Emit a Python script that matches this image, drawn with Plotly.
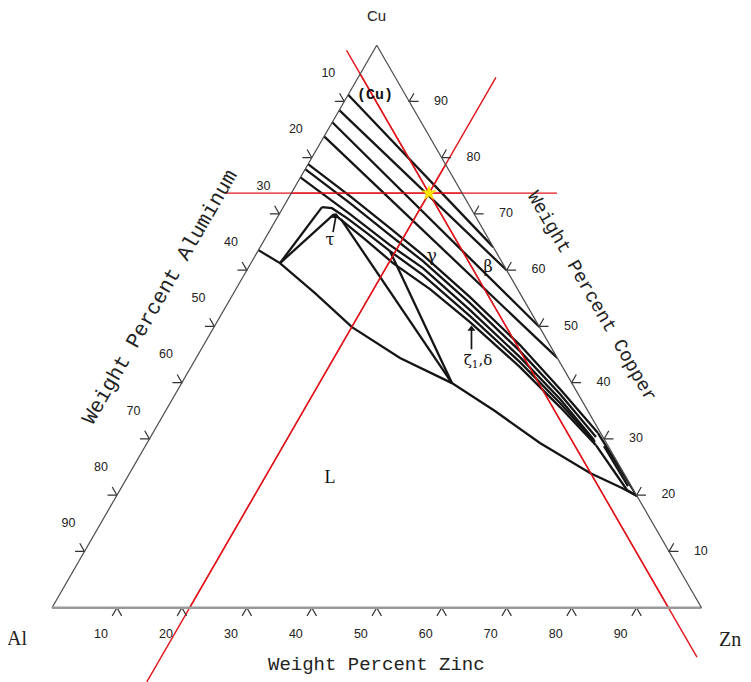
import math
import plotly.graph_objects as go

# ---------------- figure geometry (layout only) ----------------
PAGE_OFF = 8                      # default body margin of the html page
FIG_W, FIG_H = 751, 682
LEFT_PX, RIGHT_PX, BASE_PX = 52.0 - PAGE_OFF, 701.5 - PAGE_OFF, 607.7 - PAGE_OFF
TRI_W = RIGHT_PX - LEFT_PX
TRI_H = TRI_W * math.sqrt(3) / 2
TOP_PX = BASE_PX - TRI_H

# ---------------- data (weight percent Cu, Zn; Al = 100 - Cu - Zn) ----------------
tick_values = [10, 20, 30, 40, 50, 60, 70, 80, 90]
tick_labels = ["10", "20", "30", "40", "50", "60", "70", "80", "90"]

# phase boundaries
L1_cu = [91.2, 64.1];  L1_zn = [0.0, 35.9]
L2_cu = [88.45, 60.0]; L2_zn = [0.0, 40.0]
L3_cu = [86.3, 49.9];  L3_zn = [0.0, 50.1]
L4_cu = [83.8, 44.4];  L4_zn = [0.0, 55.6]
L5a_cu = [78.85, 73.16, 67.48, 62.68, 55.22, 46.69, 38.87, 31.05]
L5a_zn = [0.0, 9.30, 18.30, 25.78, 36.75, 48.71, 58.78, 68.54]
L5b_cu = [77.96, 71.92, 66.23, 61.61, 54.15, 45.62, 37.98, 30.34]
L5b_zn = [0.0, 9.92, 18.92, 26.31, 37.28, 49.24, 59.22, 68.58]
L6_cu = [76.5, 69.97, 64.46, 60.37, 52.91, 44.55, 37.09, 29.80]
L6_zn = [0.0, 10.90, 19.81, 26.94, 37.91, 49.77, 59.67, 68.55]
C1_cu = [71.21, 71.03, 69.26, 66.59, 63.39, 59.13, 51.84, 43.66, 36.38, 29.45]
C1_zn = [5.96, 7.59, 10.79, 15.20, 20.34, 27.56, 38.44, 50.22, 60.02, 68.88]
C2_cu = [69.97, 65.35, 61.26, 56.64, 50.77, 42.78, 35.67, 28.91]
C2_zn = [8.44, 15.67, 21.87, 29.88, 38.97, 50.66, 60.38, 69.29]
liq_cu = [63.57, 61.26, 55.93, 49.88, 44.38, 39.93, 34.96, 29.27, 23.94, 21.27, 19.85]
liq_zn = [0.0, 4.47, 12.53, 21.25, 31.39, 41.61, 50.72, 60.49, 70.86, 77.12, 80.15]
tie1_cu = [61.26, 71.21]; tie1_zn = [4.47, 5.96]
tie2_cu = [61.26, 69.97]; tie2_zn = [4.47, 8.44]
Sa_cu = [69.08, 39.93];   Sa_zn = [9.95, 41.61]
Sb_cu = [63.39, 39.93];   Sb_zn = [20.34, 41.61]
S1_cu = [31.05, 19.85];   S1_zn = [68.54, 80.15]
S2_cu = [28.91, 20.92, 19.85]; S2_zn = [69.29, 78.07, 80.15]
S3_cu = [28.74, 21.63];   S3_zn = [70.62, 77.87]

# pointer arrows
tau_arrow_cu = [66.77, 69.61];  tau_arrow_zn = [9.88, 8.91]
zeta_arrow_cu = [45.97, 49.53]; zeta_arrow_zn = [41.60, 39.82]

# phase labels
label_text = ["<b>(Cu)</b>", "γ", "β", "τ", "ζ<sub>1</sub>,δ", "L"]
label_cu = [91.1, 62.32, 60.37, 65.17, 43.84, 23.05]
label_zn = [4.17, 27.34, 36.95, 10.21, 43.67, 31.28]
label_size = [15, 17, 16, 16, 15, 18]
label_font = ["Liberation Mono", "DejaVu Serif", "DejaVu Serif", "DejaVu Serif",
              "DejaVu Serif", "Liberation Serif"]

# red guide lines through the marked alloy
alloy_cu, alloy_zn = 73.7, 21.2
redH_cu = [73.7, 73.7];   redH_zn = [-10.2, 40.9]
redZn_cu = [-13.2, 94.3]; redZn_zn = [21.2, 21.2]
redAl_cu = [99.1, -8.8];  redAl_zn = [-4.2, 103.7]

BLACK = "#151515"
RED = "#e3151b"


def al_of(cu, zn):
    return [100 - c - z for c, z in zip(cu, zn)]


def xy(cu, zn):
    """cartesian overlay coordinates: x = Zn + Cu/2, y = Cu"""
    xs, ys = [], []
    for c, z in zip(cu, zn):
        if c is None:
            xs.append(None); ys.append(None)
        else:
            xs.append(z + c / 2.0); ys.append(c)
    return xs, ys


def px(x, y):
    """page pixel -> paper coords of the figure"""
    return (x - PAGE_OFF) / FIG_W, 1 - (y - PAGE_OFF) / FIG_H


fig = go.Figure()

# ---------- cartesian overlay: red lines (extend beyond triangle), ticks, tick labels ----------
for cu, zn in [(redH_cu, redH_zn), (redZn_cu, redZn_zn), (redAl_cu, redAl_zn)]:
    x, y = xy(cu, zn)
    fig.add_trace(go.Scatter(x=x, y=y, mode="lines", line=dict(color=RED, width=1.4),
                             hoverinfo="skip", showlegend=False))

d = 1.45
tk_cu, tk_zn = [], []
for v in tick_values:
    # bottom edge (Zn axis)
    tk_cu += [-d, 0, -d, None]; tk_zn += [v, v, v + d, None]
    # left edge (Al axis): Al = v
    tk_cu += [100 - v, 100 - v, 100 - v + d, None]; tk_zn += [-d, 0, -d, None]
    # right edge (Cu axis): Cu = v
    tk_cu += [v, v, v + d, None]; tk_zn += [100 - v + d, 100 - v, 100 - v, None]
x, y = xy(tk_cu, tk_zn)
fig.add_trace(go.Scatter(x=x, y=y, mode="lines", line=dict(color="#333", width=1.2),
                         hoverinfo="skip", showlegend=False))

off = 4.9
lab_cu = [100 - v + off for v in tick_values] + [-off] * len(tick_values) + tick_values
lab_zn = [-off] * len(tick_values) + tick_values + [100 - v + off for v in tick_values]
x, y = xy(lab_cu, lab_zn)
fig.add_trace(go.Scatter(x=x, y=y, mode="text", text=tick_labels * 3,
                         textfont=dict(family="Liberation Sans", size=12.5, color="#222"),
                         hoverinfo="skip", showlegend=False, cliponaxis=False))

# ---------- ternary: phase boundaries ----------
lines = [(L1_cu, L1_zn), (L2_cu, L2_zn), (L3_cu, L3_zn), (L4_cu, L4_zn),
         (L5a_cu, L5a_zn), (L5b_cu, L5b_zn), (L6_cu, L6_zn),
         (C1_cu, C1_zn), (C2_cu, C2_zn), (liq_cu, liq_zn),
         (tie1_cu, tie1_zn), (tie2_cu, tie2_zn), (Sa_cu, Sa_zn), (Sb_cu, Sb_zn),
         (S1_cu, S1_zn), (S2_cu, S2_zn), (S3_cu, S3_zn)]
for cu, zn in lines:
    fig.add_trace(go.Scatterternary(a=cu, b=al_of(cu, zn), c=zn, mode="lines",
                                    line=dict(color=BLACK, width=2.3),
                                    hoverinfo="skip", showlegend=False))

# pointer arrows
for cu, zn in [(tau_arrow_cu, tau_arrow_zn), (zeta_arrow_cu, zeta_arrow_zn)]:
    fig.add_trace(go.Scatterternary(a=cu, b=al_of(cu, zn), c=zn, mode="lines",
                                    line=dict(color=BLACK, width=1.7),
                                    hoverinfo="skip", showlegend=False))
    fig.add_trace(go.Scatterternary(a=[cu[-1]], b=al_of(cu[-1:], zn[-1:]), c=[zn[-1]],
                                    mode="markers",
                                    marker=dict(symbol="triangle-up", size=7, color=BLACK),
                                    hoverinfo="skip", showlegend=False))

# red lines on top of the black lines inside the triangle
for cu, zn in [(redH_cu, redH_zn), (redZn_cu, redZn_zn), (redAl_cu, redAl_zn)]:
    fig.add_trace(go.Scatterternary(a=cu, b=al_of(cu, zn), c=zn, mode="lines",
                                    line=dict(color=RED, width=1.4),
                                    hoverinfo="skip", showlegend=False))

# phase labels
for t, c, z, s, f in zip(label_text, label_cu, label_zn, label_size, label_font):
    fig.add_trace(go.Scatterternary(a=[c], b=[100 - c - z], c=[z], mode="text", text=[t],
                                    textfont=dict(family=f, size=s, color="#111"),
                                    hoverinfo="skip", showlegend=False))

# marked alloy
fig.add_trace(go.Scatterternary(a=[alloy_cu], b=[100 - alloy_cu - alloy_zn], c=[alloy_zn],
                                mode="markers",
                                marker=dict(symbol="star", size=11, color="#ffe600",
                                            line=dict(color="#ffd000", width=0.5)),
                                hoverinfo="skip", showlegend=False))

axis_common = dict(showticklabels=False, ticks="", showgrid=False, title=dict(text=""))


def ann(text, x, y, font, angle=0):
    ax, ay = px(x, y)
    return dict(text=text, x=ax, y=ay, xref="paper", yref="paper", xanchor="center",
                yanchor="middle", showarrow=False, textangle=angle, font=font)


fig.update_layout(
    width=FIG_W, height=FIG_H, autosize=False,
    margin=dict(l=0, r=0, t=0, b=0),
    paper_bgcolor="white", plot_bgcolor="rgba(0,0,0,0)",
    xaxis=dict(domain=[0, 1], range=[(0 - LEFT_PX) / TRI_W * 100, (FIG_W - LEFT_PX) / TRI_W * 100],
               visible=False, fixedrange=True),
    yaxis=dict(domain=[0, 1], range=[(BASE_PX - FIG_H) / TRI_H * 100, BASE_PX / TRI_H * 100],
               visible=False, fixedrange=True),
    ternary=dict(
        sum=100,
        domain=dict(x=[LEFT_PX / FIG_W, RIGHT_PX / FIG_W],
                    y=[(FIG_H - BASE_PX) / FIG_H, (FIG_H - TOP_PX) / FIG_H]),
        bgcolor="rgba(0,0,0,0)",
        aaxis=dict(axis_common, linecolor="#4a4a4a", linewidth=1.2),
        baxis=dict(axis_common, linecolor="#9a9a9a", linewidth=2.6),
        caxis=dict(axis_common, linecolor="#4a4a4a", linewidth=1.2),
    ),
    annotations=[
        ann("Cu", 376, 16, dict(family="Liberation Sans", size=15, color="#222")),
        ann("Al", 17, 638, dict(family="Liberation Serif", size=20, color="#222")),
        ann("Zn", 730, 639, dict(family="Liberation Serif", size=20, color="#222")),
        ann("Weight Percent Zinc", 376, 665,
            dict(family="Liberation Mono", size=19, color="#222")),
        ann("Weight Percent Aluminum", 160, 297,
            dict(family="Liberation Mono", size=21, color="#222"), -60),
        ann("Weight Percent Copper", 591, 296,
            dict(family="Liberation Mono", size=19, color="#222"), 60),
    ],
)

fig.write_html("out.html", config={"displayModeBar": False})
